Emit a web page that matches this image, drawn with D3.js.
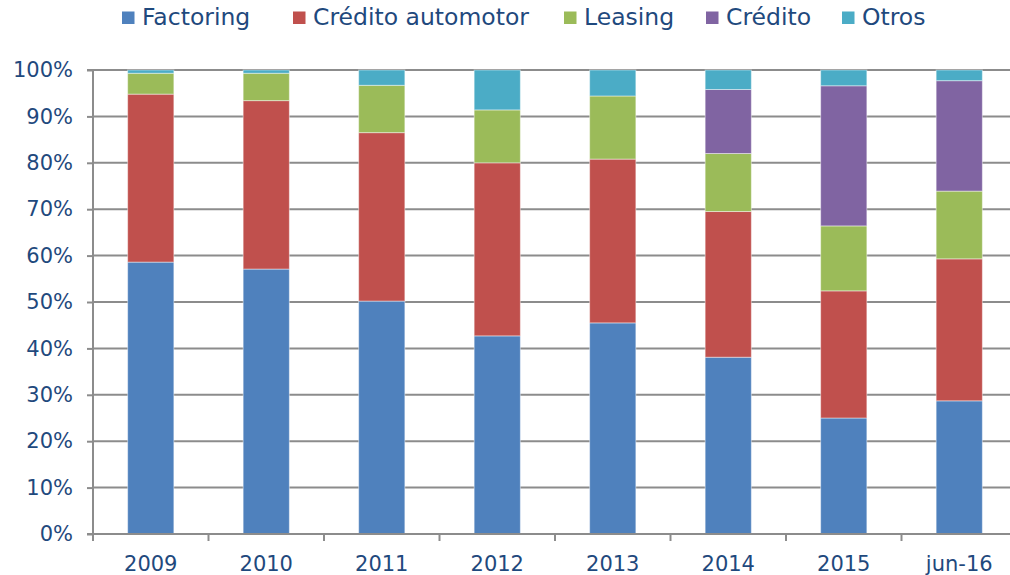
<!DOCTYPE html>
<html><head><meta charset="utf-8">
<script src="https://cdn.jsdelivr.net/npm/d3@7"></script>
<style>body{margin:0;background:#fff}svg{display:block}</style>
</head><body><div id="chart"></div>
<script>
const categories = ["2009","2010","2011","2012","2013","2014","2015","jun-16"];
const seriesNames = ["Factoring","Crédito automotor","Leasing","Crédito","Otros"];
const factoring = [58.6,57.1,50.2,42.7,45.5,38.1,25.0,28.7];
const creditoAutomotor = [36.2,36.3,36.3,37.3,35.3,31.4,27.4,30.6];
const leasing = [4.5,5.9,10.2,11.4,13.6,12.5,14.0,14.6];
const credito = [0,0,0,0,0,13.8,30.2,23.8];
const otros = [0.7,0.7,3.3,8.6,5.6,4.2,3.4,2.3];
const yTicks = [0,10,20,30,40,50,60,70,80,90,100];
const colors = ["#4F81BD","#C0504D","#9BBB59","#8064A2","#4BACC6"];
const legendX = [122,293,564,706,842];

(function(){
const W=1010,H=575;
const svg=d3.select("#chart").append("svg").attr("width",W).attr("height",H);
const plotLeft=93, plotBottom=534, plotTop=70, step=115.5;
const x=d3.scaleBand().domain(categories).range([plotLeft,plotLeft+step*categories.length]).paddingInner(0.6).paddingOuter(0.3);
const y=d3.scaleLinear().domain([0,100]).range([plotBottom,plotTop]);
const textColor="#1F497D", gridColor="#8C8C8C";

svg.append("g").selectAll("line").data(yTicks.filter(d=>d>0)).join("line")
 .attr("x1",plotLeft).attr("x2",W).attr("y1",d=>y(d)).attr("y2",d=>y(d))
 .attr("stroke",gridColor).attr("stroke-width",2);

const table=categories.map((c,i)=>({cat:c,Factoring:factoring[i],"Crédito automotor":creditoAutomotor[i],Leasing:leasing[i],"Crédito":credito[i],Otros:otros[i]}));
const stack=d3.stack().keys(seriesNames)(table);
svg.append("g").selectAll("g").data(stack).join("g").attr("fill",(d,i)=>colors[i])
 .selectAll("rect").data(d=>d.filter(p=>p[1]-p[0]>0)).join("rect")
 .attr("x",d=>x(d.data.cat)).attr("width",x.bandwidth())
 .attr("y",d=>y(d[1])).attr("height",d=>y(d[0])-y(d[1]))
 .attr("stroke","rgba(255,255,255,0.45)").attr("stroke-width",1);

const ya=svg.append("g").attr("transform",`translate(${plotLeft},0)`)
 .call(d3.axisLeft(y).tickValues(yTicks).tickFormat(d=>d+"%").tickSize(6).tickPadding(14));
ya.select(".domain").attr("stroke",gridColor).attr("stroke-width",2).attr("d",`M-6,${plotTop}H0V${plotBottom}H-6`);
ya.selectAll(".tick line").attr("stroke",gridColor).attr("stroke-width",2);
ya.selectAll("text").attr("fill",textColor).style("font-family","DejaVu Sans").style("font-size","21px");

const xa=svg.append("g").attr("transform",`translate(0,${plotBottom})`);
xa.append("line").attr("x1",plotLeft).attr("x2",W).attr("stroke",gridColor).attr("stroke-width",2);
xa.selectAll("line.t").data(d3.range(categories.length)).join("line").attr("class","t")
 .attr("x1",i=>plotLeft+i*step).attr("x2",i=>plotLeft+i*step).attr("y1",0).attr("y2",7)
 .attr("stroke",gridColor).attr("stroke-width",2);
xa.selectAll("text").data(categories).join("text")
 .attr("x",d=>x(d)+x.bandwidth()/2).attr("y",36.5).attr("text-anchor","middle")
 .attr("fill",textColor).style("font-family","DejaVu Sans").style("font-size","21px").text(d=>d);

const lg=svg.append("g");
seriesNames.forEach((s,i)=>{
 lg.append("rect").attr("x",legendX[i]).attr("y",11.5).attr("width",12.5).attr("height",12.5).attr("fill",colors[i]);
 lg.append("text").attr("x",legendX[i]+20).attr("y",24.5).attr("fill",textColor)
  .style("font-family","DejaVu Sans").style("font-size","23.5px").text(s);
});
})();
</script></body></html>
